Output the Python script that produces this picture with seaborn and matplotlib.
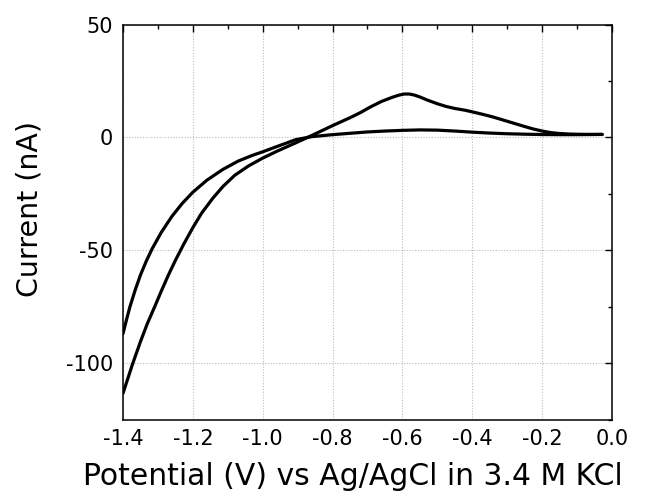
import numpy as np
import pandas as pd
import matplotlib
matplotlib.use("Agg")
import matplotlib.pyplot as plt
import seaborn as sns
from matplotlib.ticker import MultipleLocator

# Branch with oxidation peak (more negative at -1.4 V)
pot_b = [-1.400, -1.385, -1.373, -1.350, -1.330, -1.310, -1.290, -1.270, -1.250, -1.225,
         -1.200, -1.175, -1.143, -1.114, -1.080, -1.040, -1.000, -0.960, -0.905, -0.860,
         -0.800, -0.750, -0.720, -0.690, -0.660, -0.630, -0.610, -0.595, -0.580, -0.565,
         -0.550, -0.530, -0.500, -0.475, -0.450, -0.420, -0.400, -0.370, -0.340, -0.310,
         -0.280, -0.250, -0.225, -0.200, -0.175, -0.150, -0.120, -0.090, -0.060, -0.028]
cur_b = [-113.4, -106.3, -100.6, -90.5, -82.4, -75.3, -68.0, -61.0, -54.5, -47.0,
         -40.0, -33.6, -27.0, -21.8, -16.8, -12.6, -9.2, -6.2, -2.4, 0.8,
         5.2, 8.7, 11.0, 13.6, 15.9, 17.7, 18.7, 19.2, 19.2, 18.7,
         17.9, 16.6, 14.9, 13.7, 12.8, 12.0, 11.3, 10.2, 9.0, 7.6,
         6.2, 4.8, 3.7, 2.8, 2.1, 1.7, 1.45, 1.35, 1.3, 1.3]

# Flat branch (less negative at -1.4 V)
pot_a = [-1.400, -1.390, -1.380, -1.365, -1.350, -1.333, -1.316, -1.290, -1.260, -1.230,
         -1.200, -1.160, -1.114, -1.070, -1.030, -1.000, -0.960, -0.905, -0.860, -0.800,
         -0.750, -0.700, -0.650, -0.600, -0.550, -0.500, -0.450, -0.400, -0.350, -0.300,
         -0.250, -0.200, -0.150, -0.100, -0.060, -0.028]
cur_a = [-87.0, -80.8, -75.0, -67.6, -61.0, -54.7, -49.2, -42.0, -35.0, -29.2,
         -24.3, -19.0, -14.2, -10.5, -8.0, -6.4, -4.1, -1.0, 0.3, 1.2,
         1.8, 2.4, 2.8, 3.1, 3.3, 3.2, 2.8, 2.3, 1.9, 1.6,
         1.4, 1.25, 1.2, 1.2, 1.25, 1.3]

x_ticks = [-1.4, -1.2, -1.0, -0.8, -0.6, -0.4, -0.2, 0.0]
x_ticklabels = ["-1.4", "-1.2", "-1.0", "-0.8", "-0.6", "-0.4", "-0.2", "0.0"]
y_ticks = [-100, -50, 0, 50]
y_ticklabels = ["-100", "-50", "0", "50"]

sns.set_theme(style="white")
plt.rcParams['font.family'] = ['DejaVu Sans']
plt.rcParams['axes.unicode_minus'] = False

fig = plt.figure(figsize=(6.48, 4.99), dpi=100)
ax = fig.add_axes([0.1898, 0.1593, 0.9444 - 0.1898, 0.9509 - 0.1593])

df_b = pd.DataFrame({"Potential": pot_b, "Current": cur_b})
df_a = pd.DataFrame({"Potential": pot_a, "Current": cur_a})
sns.lineplot(data=df_b, x="Potential", y="Current", sort=False, color="black", lw=2.3, ax=ax)
sns.lineplot(data=df_a, x="Potential", y="Current", sort=False, color="black", lw=2.3, ax=ax)

ax.set_xlim(-1.4, 0.0)
ax.set_ylim(-125, 50)
ax.set_xticks(x_ticks)
ax.set_xticklabels(x_ticklabels)
ax.set_yticks(y_ticks)
ax.set_yticklabels(y_ticklabels)
ax.xaxis.set_minor_locator(MultipleLocator(0.1))
ax.yaxis.set_minor_locator(MultipleLocator(25))

ax.grid(True, which="major", linestyle=(0, (1, 1.5)), color="#bdbdbd", lw=0.8)
for s in ax.spines.values():
    s.set_visible(True)
    s.set_color("black")
    s.set_linewidth(1.1)

ax.tick_params(which="both", direction="in", top=True, right=True, colors="black")
ax.tick_params(which="major", length=5, width=1.0, labelsize=15, pad=7)
ax.tick_params(which="minor", length=3, width=1.0)
ax.tick_params(axis="x", which="both", labeltop=False)
ax.tick_params(axis="y", which="both", labelright=False)

ax.set_xlabel("Potential (V) vs Ag/AgCl in 3.4 M KCl", fontsize=21.5, labelpad=9, color="black")
ax.set_ylabel("Current (nA)", fontsize=20.5, labelpad=16, color="black")
ax.xaxis.label.set_x(0.47)
ax.yaxis.label.set_y(0.533)

fig.savefig("out.png", dpi=100, facecolor="white")
